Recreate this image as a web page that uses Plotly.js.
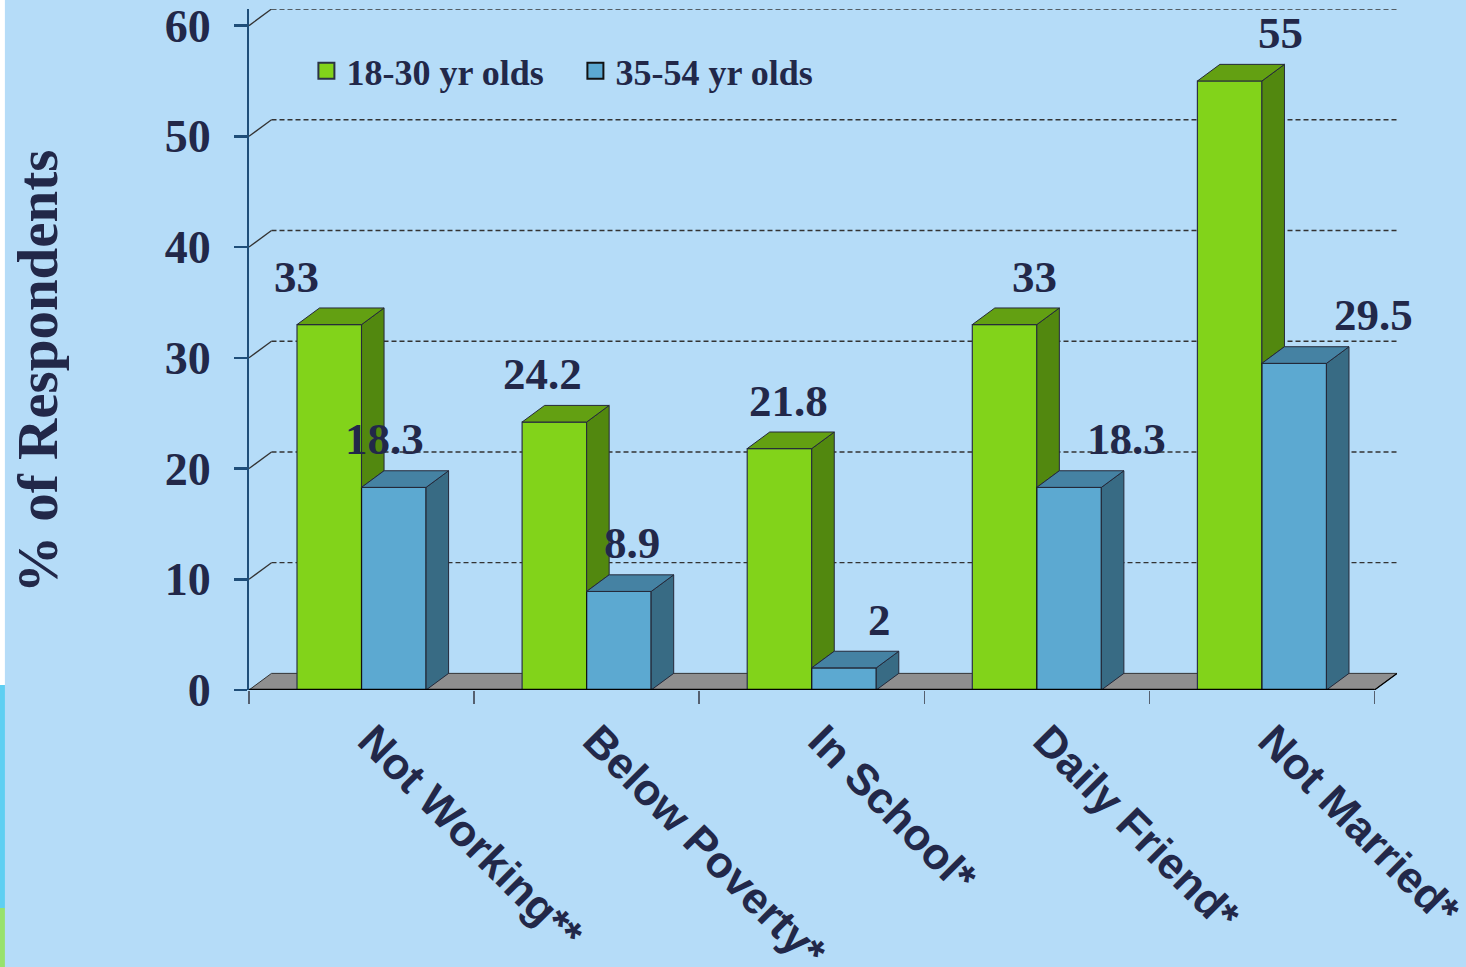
<!DOCTYPE html>
<html>
<head>
<meta charset="utf-8">
<script src="https://cdn.plot.ly/plotly-3.0.1.min.js"></script>
<style>html,body{margin:0;padding:0;background:#b5dcf8;}#chart{width:1466px;height:967px;}</style>
</head>
<body>
<div id="chart"></div>
<script>
// ---- data ----
const categories = ['Not Working**', 'Below Poverty*', 'In School*', 'Daily Friend*', 'Not Married*'];
const young = [33, 24.2, 21.8, 33, 55];        // 18-30 yr olds
const middle = [18.3, 8.9, 2, 18.3, 29.5];     // 35-54 yr olds
const seriesNames = ['18-30 yr olds', '35-54 yr olds'];
const yTicks = [0, 10, 20, 30, 40, 50, 60];
const yTitle = '% of Respondents';

// ---- styling / geometry constants ----
const W = 0.2867;     // bar width (category units)
const DX = 0.1;       // 3D depth in x (category units)
const DY = 1.5;       // 3D depth in y (value units)
const txt = '#222849';
const serif = 'Liberation Serif, Times New Roman, serif';
const C = {
  gFront: '#82d31a', gSide: '#52880f', gTop: '#63a012',
  bFront: '#5ca9d1', bSide: '#386b84', bTop: '#4582a3'
};
const idx = categories.map((c, i) => i);

function polys(list) {
  const xs = [], ys = [];
  list.forEach(p => { p.forEach(pt => { xs.push(pt[0]); ys.push(pt[1]); }); xs.push(p[0][0]); ys.push(p[0][1]); xs.push(null); ys.push(null); });
  return {x: xs, y: ys};
}

// side/top faces
const gSide = polys(idx.map(i => { const xr = i, lo = middle[i], hi = young[i];
  return [[xr, lo], [xr + DX, lo + DY], [xr + DX, hi + DY], [xr, hi]]; }));
const gTop = polys(idx.map(i => { const xl = i - W, xr = i, v = young[i];
  return [[xl, v], [xl + DX, v + DY], [xr + DX, v + DY], [xr, v]]; }));
const bSide = polys(idx.map(i => { const xr = i + W, v = middle[i];
  return [[xr, 0], [xr + DX, DY], [xr + DX, v + DY], [xr, v]]; }));
const bTop = polys(idx.map(i => { const xl = i, xr = i + W, v = middle[i];
  return [[xl, v], [xl + DX, v + DY], [xr + DX, v + DY], [xr, v]]; }));

function face(p, color) {
  return {type: 'scatter', mode: 'lines', x: p.x, y: p.y, fill: 'toself', fillcolor: color,
    line: {color: '#25293a', width: 1}, hoverinfo: 'skip', showlegend: false};
}
function legendKey(name, color, border) {
  return {type: 'scatter', mode: 'markers', name: name, x: [null], y: [null],
    marker: {symbol: 'square', size: 16, color: color, line: {color: border, width: 2}}};
}

const traces = [
  {type: 'bar', name: seriesNames[0], x: idx, y: young, width: W, offset: -W, showlegend: false,
   marker: {color: C.gFront, line: {color: '#2b3346', width: 1.2}}},
  {type: 'bar', name: seriesNames[1], x: idx, y: middle, width: W, offset: 0, showlegend: false,
   marker: {color: C.bFront, line: {color: '#111111', width: 1.2}}},
  face(gSide, C.gSide), face(gTop, C.gTop), face(bSide, C.bSide), face(bTop, C.bTop),
  legendKey(seriesNames[0], C.gFront, '#2b3346'),
  legendKey(seriesNames[1], C.bFront, '#111111')
];

// shapes: floor, back-wall gridlines, front edge, left strip
const shapes = [];
shapes.push({type: 'path', xref: 'x', yref: 'y', layer: 'below',
  path: `M ${-0.5},0 L ${4.5},0 L ${4.5 + DX},${DY} L ${-0.5 + DX},${DY} Z`,
  fillcolor: '#8f8f8f', line: {color: '#333333', width: 1}});
yTicks.filter(v => v > 0).forEach(v => {
  shapes.push({type: 'line', xref: 'x', yref: 'y', layer: 'below', x0: -0.5, y0: v, x1: -0.5 + DX, y1: v + DY,
    line: {color: '#333333', width: 1.3}});
  shapes.push({type: 'line', xref: 'x', yref: 'y', layer: 'below', x0: -0.5 + DX, y0: v + DY, x1: 4.5 + DX, y1: v + DY,
    line: {color: '#333333', width: 1.4, dash: '5px,3px'}});
});
shapes.push({type: 'line', xref: 'x', yref: 'y', x0: -0.5, y0: 0, x1: 4.5, y1: 0, line: {color: '#000000', width: 2.5}});
shapes.push({type: 'line', xref: 'x', yref: 'y', x0: 4.5, y0: 0, x1: 4.5 + DX, y1: DY, line: {color: '#000000', width: 1.2}});
// decorative slide strip at the left edge
const px2x = p => (p - 249) / 1147.5, py2y = p => (690 - p) / 681;
shapes.push({type: 'rect', xref: 'paper', yref: 'paper', x0: px2x(0), x1: px2x(5), y0: py2y(0), y1: py2y(685), fillcolor: '#ffffff', line: {width: 0}});
shapes.push({type: 'rect', xref: 'paper', yref: 'paper', x0: px2x(0), x1: px2x(5), y0: py2y(685), y1: py2y(908), fillcolor: '#5ecff2', line: {width: 0}});
shapes.push({type: 'rect', xref: 'paper', yref: 'paper', x0: px2x(0), x1: px2x(5), y0: py2y(908), y1: py2y(967), fillcolor: '#98e26c', line: {width: 0}});

// value labels
const labelFont = {family: serif, size: 45, color: txt, weight: 'bold'};
const annotations = [];
idx.forEach(i => {
  annotations.push({x: i - W / 2, y: young[i], xref: 'x', yref: 'y', text: String(young[i]), showarrow: false,
    xanchor: 'center', yanchor: 'middle', xshift: -33 + 21 * i, yshift: 48, font: labelFont});
  annotations.push({x: i + W / 2, y: middle[i], xref: 'x', yref: 'y', text: String(middle[i]), showarrow: false,
    xanchor: 'center', yanchor: 'middle', xshift: -9 + 22 * i, yshift: 48, font: labelFont});
});
// y-axis title
annotations.push({xref: 'paper', yref: 'paper', x: px2x(37), y: py2y(371), text: yTitle, textangle: -90,
  showarrow: false, xanchor: 'center', yanchor: 'middle', font: {family: serif, size: 57, color: txt, weight: 'bold'}});

const layout = {
  width: 1466, height: 967,
  margin: {l: 249, r: 69, t: 9, b: 277},
  paper_bgcolor: '#b5dcf8', plot_bgcolor: '#b5dcf8',
  barmode: 'overlay',
  showlegend: true,
  legend: {orientation: 'h', x: 0.05, y: 0.909, xanchor: 'left', yanchor: 'middle',
    bgcolor: 'rgba(0,0,0,0)', entrywidth: 224, itemsizing: 'trace',
    font: {family: serif, size: 36, color: txt, weight: 'bold'}},
  xaxis: {range: [-0.5, 4.5 + DX], tickvals: [-0.5, 0.5, 1.5, 2.5, 3.5, 4.5],
    ticktext: categories.concat(['']), ticklabelshift: 122, ticklabelstandoff: -7, tickangle: 45,
    ticklabeloverflow: 'allow',
    ticks: 'outside', ticklen: 13, tickwidth: 1.5, tickcolor: '#556070',
    showline: false, showgrid: false, zeroline: false, fixedrange: true,
    tickfont: {family: 'Liberation Sans, Arial, sans-serif', size: 44, color: txt, weight: 'bold'}},
  yaxis: {range: [0, 60 + DY], tickvals: yTicks, ticks: 'outside', ticklen: 13, tickwidth: 2.5,
    tickcolor: '#1f4e79', showline: true, linecolor: '#1f4e79', linewidth: 2,
    showgrid: false, zeroline: false, fixedrange: true, ticklabelstandoff: 14,
    tickfont: {family: serif, size: 46, color: txt, weight: 'bold'}},
  shapes: shapes,
  annotations: annotations
};

Plotly.newPlot('chart', traces, layout, {staticPlot: true});
</script>
</body>
</html>
